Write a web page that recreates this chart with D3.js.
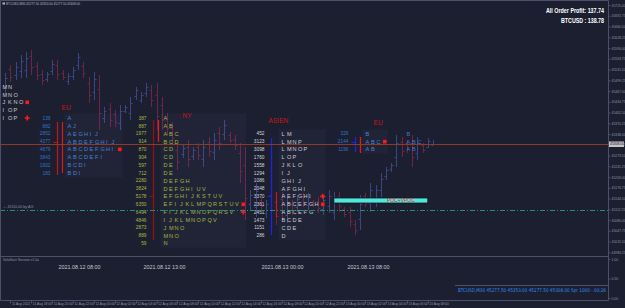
<!DOCTYPE html>
<html>
<head>
<meta charset="utf-8">
<title>BTCUSD M30 market profile</title>
<script src="https://d3js.org/d3.v7.min.js"></script>
<style>
  html, body { margin: 0; padding: 0; background: #1c1f2f; }
  svg { display: block; }
  text { font-family: "Liberation Sans", Arial, sans-serif; }
  .narrow { font-family: "Liberation Sans Narrow", "DejaVu Sans Condensed", sans-serif; font-weight: bold; }
  .status { font-family: "Liberation Sans Narrow", "DejaVu Sans Condensed", sans-serif; }
</style>
</head>
<body>
<div id="chart"></div>
<script>
// ---- M30 bars, first bar 11 Aug 15:30 ----
const barHigh = [45521,45545,45554,45575,45584,45590,45554,45530,45524,45560,45560,45530,45521,45539,45581,45554,
  45509,45524,45515,45419,45431,45410,45425,45425,45449,45479,45464,45491,45485,45491,45449,45401,45374,45311,
  45305,45320,45299,45311,45320,45329,45341,45359,45380,45344,45335,45311,45299,45170,45191,45149,45140,45179,
  45155,45164,45149,45140,45155,45161,45161,45140,45149,45155,45170,45164,45164,45119,45119,45080,45155,45161,
  45191,45185,45221,45239,45251,45335,45329,45320,45335,45329,45311,45326,45320];
const barLow = [45458,45494,45500,45506,45506,45515,45500,45485,45494,45515,45500,45500,45485,45500,45530,45506,
  45431,45440,45350,45371,45359,45359,45350,45401,45380,45440,45431,45449,45419,45350,45350,45335,45305,45230,
  45266,45239,45260,45260,45239,45269,45260,45290,45320,45311,45290,45191,45080,45110,45089,45110,45086,45080,
  45065,45080,45071,45095,45104,45119,45110,45119,45101,45095,45101,45080,45104,45089,45059,45035,45050,45119,
  45104,45119,45149,45200,45224,45239,45269,45281,45239,45260,45281,45296,45305];
const barOpen = [45477,45532,45516,45527,45529,45571,45541,45519,45503,45528,45545,45522,45496,45512,45545,45542,
  45490,45465,45474,45385,45413,45397,45372,45408,45401,45452,45441,45462,45469,45456,45424,45385,45357,45291,
  45278,45300,45272,45298,45263,45314,45284,45342,45338,45336,45324,45281,45244,45128,45120,45139,45102,45154,
  45133,45143,45094,45129,45119,45151,45125,45135,45137,45113,45122,45105,45149,45112,45104,45069,45082,45151,
  45130,45139,45171,45212,45232,45268,45314,45310,45311,45281,45304,45299,45306];
const barClose = [45505,45509,45540,45558,45565,45538,45516,45499,45517,45549,45518,45509,45512,45530,45568,45520,
  45454,45503,45400,45407,45381,45374,45406,45419,45432,45469,45456,45480,45439,45392,45380,45355,45326,45254,
  45295,45263,45289,45275,45300,45287,45321,45311,45365,45321,45304,45227,45146,45155,45166,45122,45127,45110,
  45092,45105,45130,45109,45142,45132,45148,45125,45115,45140,45153,45143,45122,45098,45077,45049,45129,45132,
  45169,45169,45203,45229,45244,45311,45287,45293,45268,45312,45290,45318,45308];

// ---- price axis and levels ----
const priceTicks = [45725.00,45692.75,45660.50,45628.25,45596.00,45563.75,45531.50,45499.25,45467.00,45434.75,
  45402.50,45370.25,45338.00,45305.75,45273.50,45241.25,45209.00,45176.75,45144.50,45112.25,45080.00,45047.75,
  45015.50,44983.25];
const subTicks = [1, 0.5, 0];
const lastPrice = 45308;
const dashLevel = 45110;
const pocBand = [45146, 45131];
const pocBandTimes = ["2021-08-12 23:00", "2021-08-13 08:00"];

// ---- TPO profiles ----
const sessionNames = ["", "EU", "NY", "ASIEN", "EU", ""];
const sessionStart = ["2021-08-11 14:15", "2021-08-11 20:30", "2021-08-12 05:40", "2021-08-12 17:00", "2021-08-13 01:00", "2021-08-13 05:00"];
const sessionDates = ["", "2021.08.12 08:00", "2021.08.12 13:00", "2021.08.13 00:00", "2021.08.13 08:00", ""];
const sessionLabelPrice = [null, 45416, 45392, 45377, 45371, null];

const p0Prices = [45480, 45456, 45433, 45409, 45386];
const p0Tpo = ["MN", "MNO", "JKNO", "IOP", "IOP"];

const euPrices = [45386, 45362, 45339, 45315, 45292, 45268, 45245, 45221];
const euVols = [139, 882, 2852, 4377, 4879, 3843, 1902, 183];
const euTpo = ["A", "AJ", "AEGHIJ", "ABDEFGHIJ", "ABCDEFGHI", "ABCDEFI", "BCDI", "BDI"];

const nyPrices = [45386, 45362, 45339, 45315, 45292, 45268, 45245, 45221, 45198, 45174, 45151, 45127, 45104, 45080, 45057, 45033, 45010];
const nyVols = [387, 887, 1977, 914, 870, 904, 597, 712, 2280, 3824, 5178, 6350, 6494, 4846, 2873, 889, 59];
const nyTpo = ["A", "AB", "ABC", "BCD", "CD", "CD", "DE", "DE", "DEFGH", "DEFGHIUV", "EFGHIJKSTUV",
  "EFIJKLMPQRSTUV", "FIJKLMNOPQRSV", "IJKLMNOPQV", "JMNO", "MNO", "N"];

const asPrices = [45339, 45315, 45292, 45268, 45245, 45221, 45198, 45174, 45151, 45127, 45104, 45080, 45057, 45033];
const asVols = [452, 3123, 3098, 1760, 1558, 1294, 1086, 2048, 3370, 2361, 2451, 1473, 1151, 286];
const asTpo = ["LM", "LMNP", "LMNOP", "LOP", "JKLO", "IJ", "GHIJ", "AFGHI", "AEFGHI", "ABCEFGH", "ABCEFG", "BCDE", "CDE", "D"];

const eu2Prices = [45339, 45315, 45292];
const eu2Vols = [326, 2144, 1196];
const eu2Tpo = ["B", "ABC", "AB"];

const eu3Prices = [45339, 45315, 45292];
const eu3Tpo = ["B", "ABC", "AB"];

// range line (session) and second line (initial balance), as price spans
const rangeLines = [null, [45374, 45215], [45380, 45020], [45326, 45035], [45329, 45284], null];
const ibLines = [null, [45374, 45221], [45380, 45314], [45164, 45089], [45329, 45281], null];
const stubPrice = [null, 45315, 45151, 45151, 45315, null];
// row index of the TPO POC (square) and volume POC (plus)
const squareRow = [2, 4, 11, 9, 1, -1];
const plusRow = [4, -1, 12, 8, -1, -1];

// ---- chart setup ----
const W = 625, H = 308;
const plotRight = 608, mainBottom = 256, subBottom = 300;
const bg = "#1c1f2f", frame = "#4b5169";
const upColor = "#3a4684", downColor = "#6c2447";
const parse = d3.timeParse("%Y-%m-%d %H:%M");

const t0 = new Date(2021, 7, 11, 15, 0);
const t1 = new Date(2021, 7, 13, 8, 30);
const x = d3.scaleTime().domain([t0, t1]).range([0, 433]);
const y = d3.scaleLinear().domain([45740, 44816]).range([0, 308]);
const ySub = d3.scaleLinear().domain([0, 1]).range([subBottom - 2, mainBottom + 3]);

const svg = d3.select("#chart").append("svg").attr("width", W).attr("height", H);
svg.append("rect").attr("width", W).attr("height", H).attr("fill", bg);

svg.append("defs").append("clipPath").attr("id", "main")
  .append("rect").attr("x", 1).attr("y", 1).attr("width", plotRight - 1).attr("height", mainBottom - 1);
const main = svg.append("g").attr("clip-path", "url(#main)");

// ---- bars ----
const bars = barHigh.map((h, i) => ({
  t: d3.timeMinute.offset(t0, 30 * (i + 1)), h, l: barLow[i], o: barOpen[i], c: barClose[i]
}));
const barG = main.append("g").attr("stroke-width", 1);
const bar = barG.selectAll("g").data(bars).join("g")
  .attr("stroke", d => d.c >= d.o ? upColor : downColor);
bar.append("line")
  .attr("x1", d => Math.round(x(d.t)) + 0.5).attr("x2", d => Math.round(x(d.t)) + 0.5)
  .attr("y1", d => y(d.h)).attr("y2", d => y(d.l));
bar.append("line")
  .attr("x1", d => Math.round(x(d.t)) - 1.5).attr("x2", d => Math.round(x(d.t)) + 0.5)
  .attr("y1", d => Math.round(y(d.o)) + 0.5).attr("y2", d => Math.round(y(d.o)) + 0.5);
bar.append("line")
  .attr("x1", d => Math.round(x(d.t)) + 0.5).attr("x2", d => Math.round(x(d.t)) + 2.5)
  .attr("y1", d => Math.round(y(d.c)) + 0.5).attr("y2", d => Math.round(y(d.c)) + 0.5);

// ---- profiles ----
const step = 5.5;
const profiles = [
  {prices: p0Prices, tpo: p0Tpo, vols: null, letter: "#c9cad2", num: "#c9cad2"},
  {prices: euPrices, tpo: euTpo, vols: euVols, letter: "#4682da", num: "#3271c6", c1: "#c0161a", c2: "#d81a1a"},
  {prices: nyPrices, tpo: nyTpo, vols: nyVols, letter: "#a4b53f", num: "#a9b943", c1: "#8c1414", c2: "#e31c1c"},
  {prices: asPrices, tpo: asTpo, vols: asVols, letter: "#cbccd4", num: "#d2d3da", c1: "#1d27d8", c2: "#cc1818"},
  {prices: eu2Prices, tpo: eu2Tpo, vols: eu2Vols, letter: "#4682da", num: "#3271c6", c1: "#1d27d8", c2: "#e01c1c"},
  {prices: eu3Prices, tpo: eu3Tpo, vols: null, letter: "#3f74c4", num: "#3f74c4"}
];
const labelDx = [0, 4, 29, -3, 18, 0];
const dateDx = [0, 22, 11, 11, 13, 0];

profiles.forEach((p, k) => {
  const lx = Math.round(x(parse(sessionStart[k]))) + 0.5;
  const letX = lx + 10;
  const maxLen = d3.max(p.tpo, s => s.length);
  const right = letX + (maxLen + 0.5) * step;
  const g = main.append("g");

  if (k > 0 && k < 5) {
    g.append("rect")
      .attr("x", letX - 3).attr("y", y(p.prices[0]) - 4.5)
      .attr("width", right - letX + 6)
      .attr("height", y(p.prices[p.prices.length - 1]) - y(p.prices[0]) + 9)
      .attr("fill", "#8890c0").attr("fill-opacity", 0.05);
  }

  if (rangeLines[k]) {
    g.append("line").attr("x1", lx).attr("x2", lx)
      .attr("y1", y(rangeLines[k][0])).attr("y2", y(rangeLines[k][1]))
      .attr("stroke", p.c1).attr("stroke-width", 1.3);
    g.append("line").attr("x1", lx + 5).attr("x2", lx + 5)
      .attr("y1", y(ibLines[k][0])).attr("y2", y(ibLines[k][1]))
      .attr("stroke", p.c2).attr("stroke-width", 1.3);
    g.append("line").attr("x1", lx - 4).attr("x2", lx)
      .attr("y1", Math.round(y(stubPrice[k])) + 0.5).attr("y2", Math.round(y(stubPrice[k])) + 0.5)
      .attr("stroke", p.c1);
  }

  if (p.vols) {
    g.selectAll("text.vol").data(p.vols).join("text")
      .attr("x", lx - 7).attr("y", (d, i) => y(p.prices[i]))
      .attr("dy", "0.35em").attr("text-anchor", "end")
      .attr("font-size", 4.8).attr("fill", p.num)
      .text(d => d);
  }

  const rows = g.selectAll("g.row").data(p.tpo).join("g")
    .attr("transform", (d, i) => `translate(0,${y(p.prices[i])})`);
  rows.selectAll("text").data(d => d.split("")).join("text")
    .attr("x", (d, j) => letX + j * step).attr("dy", "0.36em")
    .attr("font-size", 5.6).attr("fill", p.letter)
    .text(d => d);

  if (squareRow[k] >= 0) {
    const sy = y(p.prices[squareRow[k]]);
    g.append("rect").attr("x", right - 1.8).attr("y", sy - 1.8).attr("width", 3.6).attr("height", 3.6)
      .attr("fill", "#ff1a1a");
  }
  if (plusRow[k] >= 0) {
    const py = y(p.prices[plusRow[k]]);
    g.append("path").attr("d", `M${right - 2.5},${py}h5M${right},${py - 2.5}v5`)
      .attr("stroke", "#ff1a1a").attr("stroke-width", 1.6);
  }

  if (sessionNames[k]) {
    g.append("text").attr("x", lx + labelDx[k]).attr("y", y(sessionLabelPrice[k]))
      .attr("dy", "0.35em").attr("font-size", 6.6).attr("fill", "#c8161a")
      .text(sessionNames[k]);
  }
  if (sessionDates[k]) {
    svg.append("text").attr("x", lx + dateDx[k]).attr("y", mainBottom + 11)
      .attr("dy", "0.35em").attr("text-anchor", "middle").attr("font-size", 5.4).attr("fill", "#c4c7d2")
      .text(sessionDates[k]);
  }
});

// ---- levels ----
main.append("line").attr("x1", 0).attr("x2", plotRight)
  .attr("y1", Math.round(y(lastPrice)) + 0.5).attr("y2", Math.round(y(lastPrice)) + 0.5)
  .attr("stroke", "#8d3b25").attr("stroke-width", 1);

main.append("line").attr("x1", 0).attr("x2", plotRight)
  .attr("y1", Math.round(y(dashLevel)) + 0.5).attr("y2", Math.round(y(dashLevel)) + 0.5)
  .attr("stroke", "#229070").attr("stroke-width", 1).attr("stroke-dasharray", "5,2,1,2");
main.append("text").attr("x", 3).attr("y", y(dashLevel) - 2)
  .attr("font-size", 3.6).attr("fill", "#8a93a8").text("\u2190 45110.00 by A.K");

const bandX0 = x(parse(pocBandTimes[0])), bandX1 = x(parse(pocBandTimes[1]));
main.append("rect").attr("x", bandX0).attr("y", y(pocBand[0]))
  .attr("width", bandX1 - bandX0).attr("height", y(pocBand[1]) - y(pocBand[0]))
  .attr("fill", "#52e6dc").attr("stroke", "#0e1a22").attr("stroke-width", 0.8);
main.append("text").attr("x", bandX0 + 53).attr("y", (y(pocBand[0]) + y(pocBand[1])) / 2)
  .attr("dy", "0.36em").attr("font-size", 5).attr("fill", "#e32222").text("POC+VPOC");

// ---- frame ----
svg.append("path")
  .attr("d", `M0.5,0.5H${plotRight + 0.5}V${subBottom + 0.5}H0.5Z M0.5,${mainBottom + 0.5}H${plotRight + 0.5}`)
  .attr("fill", "none").attr("stroke", frame);

// ---- price axis ----
const yAxis = svg.append("g").attr("transform", `translate(${plotRight + 0.5},0)`)
  .call(d3.axisRight(y).tickValues(priceTicks).tickFormat(d3.format(".2f")).tickSize(2).tickPadding(1));
yAxis.select(".domain").remove();
yAxis.selectAll("line").attr("stroke", frame);
yAxis.selectAll("text").attr("font-size", 3.4).attr("fill", "#8d93a6");

const subAxis = svg.append("g").attr("transform", `translate(${plotRight + 0.5},0)`)
  .call(d3.axisRight(ySub).tickValues(subTicks).tickFormat(d3.format(".2f")).tickSize(2).tickPadding(1));
subAxis.select(".domain").remove();
subAxis.selectAll("line").attr("stroke", frame);
subAxis.selectAll("text").attr("font-size", 3.4).attr("fill", "#8d93a6");

const ly = Math.round(y(lastPrice));
svg.append("rect").attr("x", plotRight + 1).attr("y", ly - 2.5).attr("width", 15).attr("height", 5.5)
  .attr("fill", "#c4c6cc");
svg.append("text").attr("x", plotRight + 2).attr("y", ly + 0.3).attr("dy", "0.35em")
  .attr("font-size", 3.4).attr("fill", "#101010").text(d3.format(".2f")(lastPrice));

// ---- time axis ----
const timeTicks = d3.timeHour.every(2).range(t0, d3.timeMinute.offset(t1, 1));
const fmtTick = d3.timeFormat("%d %b %H:%M");
const xAxis = svg.append("g").attr("transform", `translate(0,${subBottom + 0.5})`);
xAxis.selectAll("line").data(timeTicks).join("line")
  .attr("x1", d => Math.round(x(d)) + 0.5).attr("x2", d => Math.round(x(d)) + 0.5)
  .attr("y1", 0).attr("y2", 3).attr("stroke", frame);
xAxis.selectAll("text").data(timeTicks).join("text")
  .attr("x", d => x(d) + 1.5).attr("y", 4.5)
  .attr("font-size", 3.3).attr("fill", "#9097a9")
  .text((d, i) => i === 0 ? "11 Aug 2021" : fmtTick(d));

// ---- session subwindow ----
svg.append("text").attr("x", 3).attr("y", mainBottom + 4.5).attr("font-size", 3.4)
  .attr("fill", "#8d93a6").text("VolaStart Session v1.0a");

svg.append("line").attr("x1", 455).attr("x2", plotRight).attr("y1", 285.5).attr("y2", 285.5)
  .attr("stroke", frame);
svg.append("text").attr("class", "status").attr("x", plotRight - 2).attr("y", 290.5).attr("dy", "0.35em")
  .attr("text-anchor", "end").attr("font-size", 5.2).attr("fill", "#2f8ef5")
  .attr("textLength", 148).attr("lengthAdjust", "spacingAndGlyphs")
  .text("BTCUSD,M30 45277.50 45353.00 45277.50 45308.00 Spr 1000 - 00:26");

// ---- header texts ----
svg.append("rect").attr("x", 2.5).attr("y", 2.5).attr("width", 2.5).attr("height", 2).attr("fill", "#b0b5c4");
svg.append("text").attr("x", 6).attr("y", 5).attr("font-size", 3.6).attr("fill", "#b3b8c8")
  .attr("textLength", 74).attr("lengthAdjust", "spacingAndGlyphs")
  .text("BTCUSD,M30 45277.50 45353.00 45277.50 45308.00");

const hdr = svg.append("g").attr("class", "narrow").attr("fill", "#ffffff");
hdr.append("text").attr("transform", "translate(604,12.5) scale(1,1.35)")
  .attr("text-anchor", "end").attr("font-size", 6)
  .attr("textLength", 58).attr("lengthAdjust", "spacingAndGlyphs")
  .text("All Order Profit: 137.74");
hdr.append("text").attr("transform", "translate(604,23) scale(1,1.35)")
  .attr("text-anchor", "end").attr("font-size", 6)
  .attr("textLength", 43).attr("lengthAdjust", "spacingAndGlyphs")
  .text("BTCUSD : 138.78");
</script>
</body>
</html>
